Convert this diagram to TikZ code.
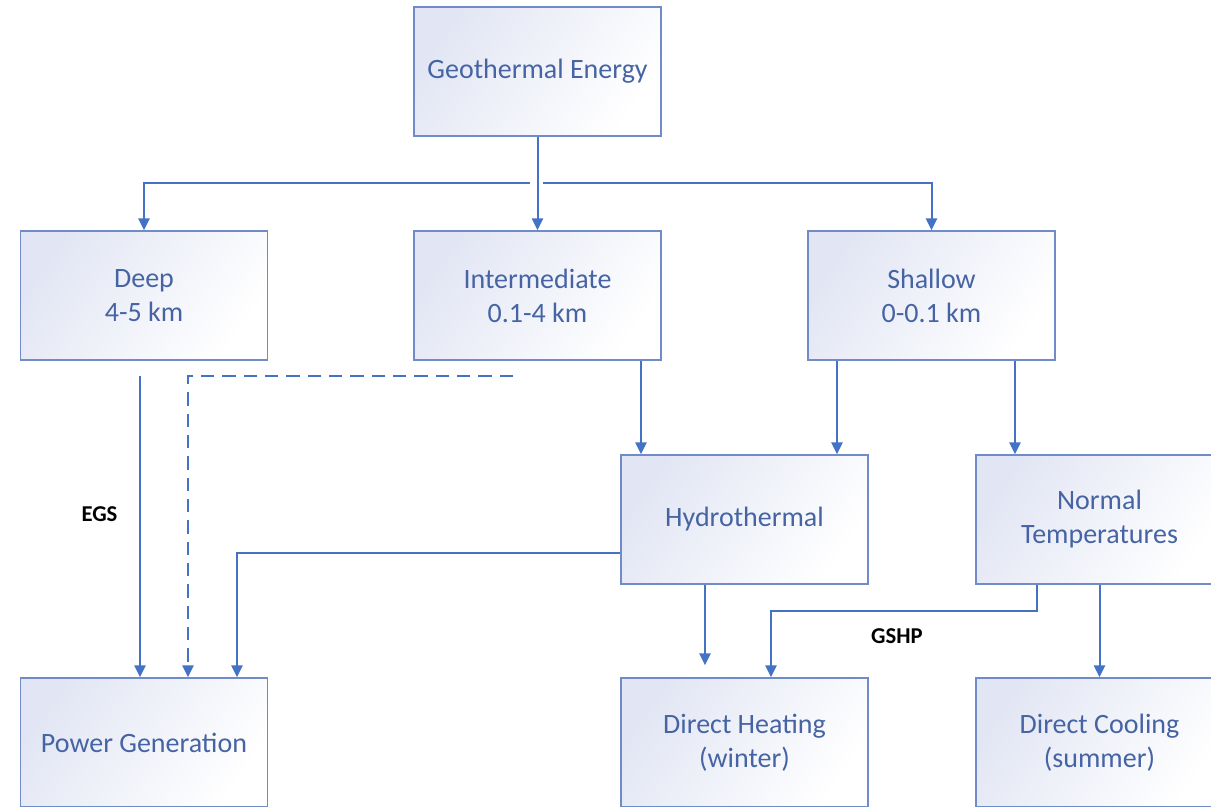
\documentclass[tikz,border=0pt]{standalone}
\usepackage{fontspec}
\setmainfont{Carlito}
\usetikzlibrary{arrows.meta,calc}

\definecolor{boxedge}{HTML}{6F8CC8}
\definecolor{boxtext}{HTML}{4664A4}
\definecolor{boxtint}{HTML}{E2E6F4}
\definecolor{flowblue}{HTML}{4472C4}

\newcommand{\boxfont}{\fontsize{21pt}{25.5pt}\selectfont}
\newcommand{\tagfont}{\fontsize{17pt}{20pt}\selectfont\bfseries}

\tikzset{
  stage/.style={draw=boxedge, line width=1.1pt,
                left color=boxtint, middle color=white, right color=white,
                shading angle=55,
                minimum width=185.25pt, minimum height=96.75pt, inner sep=0pt,
                align=center, text=boxtext, font=\boxfont},
  flow/.style={draw=flowblue, line width=1.5pt, -{Triangle[width=8.5pt,length=9pt]}},
  pathlabel/.style={font=\tagfont, text=black, inner sep=1pt},
}

\begin{document}
\begin{tikzpicture}[x=0.75pt,y=-0.75pt]
  \path[use as bounding box] (0,0) rectangle (1211,807);
  \clip (0,0) rectangle (1211,807);

  % depth levels
  \node[stage] (geo)  at (537.5,71.5)   {Geothermal Energy};
  \node[stage] (deep) at (144,295.5)    {Deep\\4-5 km};
  \node[stage] (mid)  at (537.5,295.5)  {Intermediate\\0.1-4 km};
  \node[stage] (shal) at (931.5,295.5)  {Shallow\\0-0.1 km};
  \node[stage] (hyd)  at (744.5,519.5)  {Hydrothermal};
  \node[stage] (norm) at (1099.5,519.5) {Normal\\Temperatures};
  % uses
  \node[stage] (pow)  at (144,742.5)    {Power Generation};
  \node[stage] (heat) at (744.5,742.5)  {Direct Heating\\(winter)};
  \node[stage] (cool) at (1099.5,742.5) {Direct Cooling\\(summer)};

  \node[pathlabel] (egs)  at (99.5,514.5) {EGS};
  \node[pathlabel] (gshp) at (897,636)    {GSHP};

  \coordinate (forkl)    at ($(geo.south)+(-8,46)$);
  \coordinate (forkr)    at ($(geo.south)+(5,46)$);
  \coordinate (egsstart) at (140,376);
  \coordinate (dashend)  at (513,376);

  \draw[flow] (geo.south) -- (mid.north);
  \draw[flow] (forkl) -| (deep.north);
  \draw[flow] (forkr) -| (shal.north);

  \draw[flow] (egsstart) -| ($(pow.north)+(-4,0)$);
  \draw[flow,dash pattern=on 10pt off 6pt] (dashend) -| ($(pow.north)+(44,0)$);
  \draw[flow] ($(hyd.west)+(0,33.5)$) -| ($(pow.north)+(93,0)$);

  \draw[flow] ($(mid.south)+(103.5,0)$) -- ($(hyd.north)+(-103.5,0)$);
  \draw[flow] ($(shal.south)+(-94.5,0)$) -- ($(hyd.north)+(92.5,0)$);
  \draw[flow] ($(shal.south)+(83.5,0)$) -- ($(norm.north)+(-84.5,0)$);

  \draw[flow] ($(hyd.south)+(-39.5,0)$) -- ($(heat.north)+(-39.5,-12)$);
  \draw[flow] ($(norm.south)+(-62.5,0)$) -- ++(0,26)
                                        -| ($(heat.north)+(26.5,0)$);
  \draw[flow] (norm.south) -- (cool.north);
\end{tikzpicture}
\end{document}
